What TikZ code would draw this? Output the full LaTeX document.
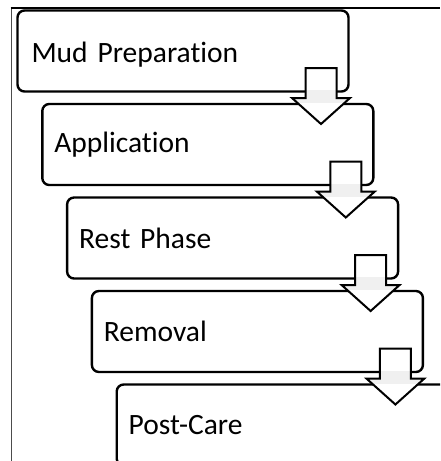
\documentclass[tikz,border=0pt]{standalone}
\usepackage{fontspec}
\setmainfont[Ligatures=NoCommon]{Carlito}
\usetikzlibrary{calc}

\newcommand{\flowarrow}[2]{%
\draw[downarrow] let \p1=(#1.south east), \p2=(#2.north) in
  ({\x1-43pt},{\y1+23.5pt}) -- ({\x1-12pt},{\y1+23.5pt}) -- ({\x1-12pt},{\y1-6.5pt})
  -- ({\x1+1.5pt},{\y1-6.5pt}) -- ({\x1-27.5pt},{\y2-20pt})
  -- ({\x1-56.5pt},{\y1-6.5pt}) -- ({\x1-43pt},{\y1-6.5pt}) -- cycle;}

\begin{document}
\begin{tikzpicture}[x=1pt, y=1pt,
  stage/.style={draw, fill=white, rounded corners=7pt, line width=2.4pt,
    minimum width=331pt, minimum height=81pt, text width=307pt, inner xsep=12pt,
    align=left, outer sep=0pt, font=\fontsize{29.5}{34}\selectfont},
  downarrow/.style={draw, fill=white, line width=2pt, line join=miter,
    path picture={\fill[black!6]
      ($(path picture bounding box.north west)+(0,-22)$) rectangle
      ($(path picture bounding box.north east)+(0,-35)$);}}]

\useasboundingbox (0,0) rectangle (440,-461);
\clip (0,0) rectangle (440,-461);

\draw[black!70, line width=0.8pt] (11.5,-8) -- (11.5,-461);
\draw[line width=2pt] (10.5,-8) -- (440,-8);

\node[stage, inner xsep=14pt, text width=303pt] (mud) at (183,-51)
  {\raisebox{-4pt}[\height][\depth]{Mud Preparation}};
\node[stage] (appl) at (207.8,-144.5) {Application};
\node[stage] (rest) at (232.6,-238) {Rest Phase};
\node[stage] (remov) at (257.4,-331.5) {Removal};
\node[stage] (care) at (282.2,-425) {Post-Care};

\flowarrow{mud}{appl}
\flowarrow{appl}{rest}
\flowarrow{rest}{remov}
\flowarrow{remov}{care}
\end{tikzpicture}
\end{document}
